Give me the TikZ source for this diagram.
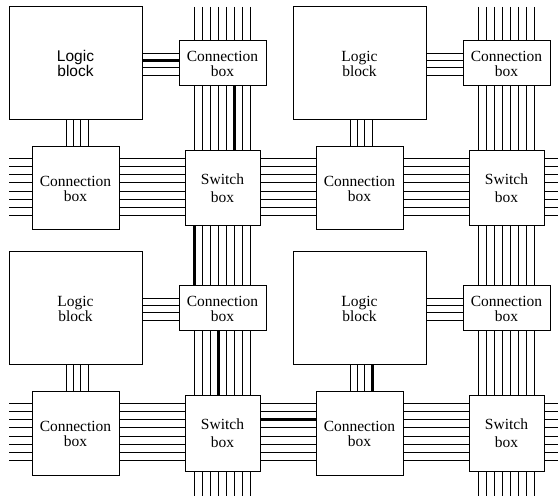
\documentclass[tikz,border=0pt]{standalone}
\usepackage{fontspec}
\setmainfont{Liberation Serif}
\setsansfont{Liberation Sans}
\usepackage{tikz}
\usetikzlibrary{calc}
\newcommand{\wirewidth}{0.75pt}
\tikzset{blockbox/.style={draw, fill=white, line width=1pt, inner sep=0pt, align=center, font=\fontsize{15.5}{15}\selectfont}}
\tikzset{logicbox/.style={blockbox, minimum width=133pt, minimum height=113pt}}
\tikzset{vconbox/.style={blockbox, minimum width=87pt, minimum height=45pt}}
\tikzset{hconbox/.style={blockbox, minimum width=87pt, minimum height=83pt}}
\tikzset{switchbox/.style={blockbox, minimum width=75pt, minimum height=75pt, font=\fontsize{15.5}{18}\selectfont}}
\tikzset{wire/.style={line width=\wirewidth}}
\tikzset{usedwire/.style={line width=2.8pt}}

\begin{document}
\begin{tikzpicture}[x=1pt, y=-1pt]
\useasboundingbox (0,0) rectangle (558,500);

\node[logicbox, font=\sffamily\fontsize{15.5}{15}\selectfont] (L00) at (75.5,63.5) {Logic\\block};
\node[logicbox] (L10) at (359.5,63.5) {Logic\\block};
\node[logicbox] (L01) at (75.5,308.5) {Logic\\block};
\node[logicbox] (L11) at (359.5,308.5) {Logic\\block};

\foreach \c in {0,1} {
\foreach \r in {0,1} {
\begin{scope}[shift={(284*\c,245*\r)}]
\node[vconbox] (V\c\r) at (222.5,63.5) {Connection\\box};
\node[hconbox] (H\c\r) at (75.5,188.5) {Connection\\box};
\node[switchbox] (S\c\r) at (222.5,188.5) {Switch\\box};
\end{scope}
}}

% free ends of the tracks
\foreach \c in {0,1} {
  \coordinate (top\c) at (222.5+284*\c,7);
  \coordinate (bot\c) at (222.5+284*\c,496);
}
\foreach \r in {0,1} {
  \coordinate (lft\r) at (9,188.5+245*\r);
  \coordinate (rgt\r) at (558,188.5+245*\r);
}

% vertical channels
\foreach \c in {0,1} {
\foreach \i in {0,...,7} {
  \pgfmathsetmacro{\dx}{-28+8*\i}
  \draw[wire] ([xshift=\dx pt]top\c) -- ([xshift=\dx pt]V\c0.north);
  \draw[wire] ([xshift=\dx pt]V\c0.south) -- ([xshift=\dx pt]S\c0.north);
  \draw[wire] ([xshift=\dx pt]S\c0.south) -- ([xshift=\dx pt]V\c1.north);
  \draw[wire] ([xshift=\dx pt]V\c1.south) -- ([xshift=\dx pt]S\c1.north);
  \draw[wire] ([xshift=\dx pt]S\c1.south) -- ([xshift=\dx pt]bot\c);
}}

% horizontal channels
\foreach \r in {0,1} {
\foreach \i in {0,...,7} {
  \pgfmathsetmacro{\dy}{30-8.1*\i}
  \draw[wire] ([yshift=\dy pt]lft\r) -- ([yshift=\dy pt]H0\r.west);
  \draw[wire] ([yshift=\dy pt]H0\r.east) -- ([yshift=\dy pt]S0\r.west);
  \draw[wire] ([yshift=\dy pt]S0\r.east) -- ([yshift=\dy pt]H1\r.west);
  \draw[wire] ([yshift=\dy pt]H1\r.east) -- ([yshift=\dy pt]S1\r.west);
  \draw[wire] ([yshift=\dy pt]S1\r.east) -- ([yshift=\dy pt]rgt\r);
}}

% logic block pins
\foreach \c in {0,1} {
\foreach \r in {0,1} {
\foreach \i in {0,...,3} {
  \pgfmathsetmacro{\dy}{10.5-7.4*\i}
  \pgfmathsetmacro{\dx}{-9.5+7.4*\i}
  \draw[wire] ([yshift=\dy pt]L\c\r.east) -- ([yshift=\dy pt]V\c\r.west);
  \draw[wire] ([xshift=\dx pt]L\c\r.south) -- ([xshift=\dx pt]H\c\r.north);
}}}

% routed net
\draw[usedwire] ([yshift=3.1pt]L00.east) -- ([yshift=3.1pt]V00.west);
\draw[usedwire] ([xshift=12pt]V00.south) -- ([xshift=12pt]S00.north);
\draw[usedwire] ([xshift=-28pt]S00.south) -- ([xshift=-28pt]V01.north);
\draw[usedwire] ([xshift=-4pt]V01.south) -- ([xshift=-4pt]S01.north);
\draw[usedwire] ([yshift=13.8pt]S01.east) -- ([yshift=13.8pt]H11.west);
\draw[usedwire] ([xshift=12.7pt]L11.south) -- ([xshift=12.7pt]H11.north);

\end{tikzpicture}
\end{document}
